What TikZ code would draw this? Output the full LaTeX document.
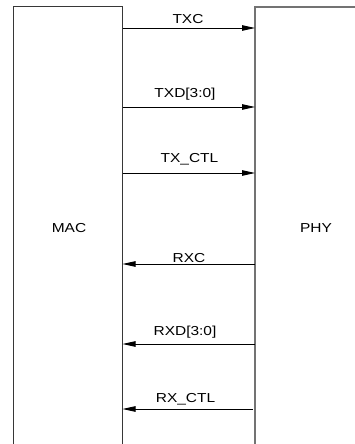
\documentclass[tikz,border=0pt]{standalone}
\usepackage{fontspec}
\setmainfont{Liberation Sans}[FakeStretch=1.19]
\usetikzlibrary{arrows.meta,positioning}
\definecolor{edgegray}{RGB}{55,55,55}
\definecolor{phygray}{RGB}{115,115,115}

\begin{document}
\begin{tikzpicture}[x=1pt, y=-1pt,
    every node/.style={font=\fontsize{13}{15}\selectfont, inner sep=0pt},
    boxline/.style={line width=1pt, draw=edgegray},
    sigline/.style={line width=0.9pt, -{Triangle[length=13pt,width=5.5pt]}},
    siglabel/.style={anchor=base}]
    \useasboundingbox (0,0) rectangle (355,444);
    % open blocks (cut off at the bottom)
    \draw[boxline] (13,444) -- (13,6.5) -- (122.5,6.5) -- (122.5,444);
    \draw[boxline, draw=phygray, line width=1.3pt] (255,444) -- (255,7) -- (355,7);
    \node[siglabel] (mac) at (69,232) {MAC};
    \node[siglabel] (phy) at (316,232) {PHY};
    % transmit signals, MAC to PHY
    \foreach \y/\base/\cx/\lab/\id in {28/24/188/{TXC}/txc, 107/97/185/{TXD[3:0]}/txd, 173/162/189.5/{TX\_CTL}/txctl} {
      \coordinate (\id m) at (122.5,\y);
      \coordinate (\id p) at (255,\y);
      \draw[sigline] (\id m) -- (\id p);
      \node[siglabel] (\id lab) at (\cx,\base) {\lab};
    }
    % receive signals, PHY to MAC
    \foreach \y/\base/\cx/\sx/\lab/\id in {264/262/189/255/{RXC}/rxc, 344/335/185/255/{RXD[3:0]}/rxd, 409/402/185.5/253/{RX\_CTL}/rxctl} {
      \coordinate (\id m) at (122.5,\y);
      \coordinate (\id p) at (\sx,\y);
      \draw[sigline] (\id p) -- (\id m);
      \node[siglabel] (\id lab) at (\cx,\base) {\lab};
    }
\end{tikzpicture}
\end{document}
